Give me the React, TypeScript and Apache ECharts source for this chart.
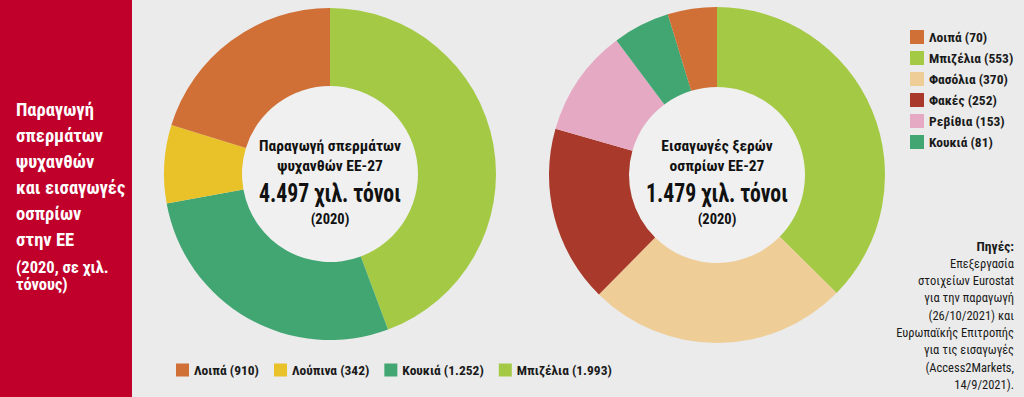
import React, { useEffect, useRef } from "react";
import * as echarts from "echarts";

// ---- Data ----
const prodCategories = ["Μπιζέλια", "Κουκιά", "Λούπινα", "Λοιπά"];
const prodValues = [1993, 1252, 342, 910];
const prodLegendOrder = ["Λοιπά", "Λούπινα", "Κουκιά", "Μπιζέλια"];

const impCategories = ["Μπιζέλια", "Φασόλια", "Φακές", "Ρεβίθια", "Κουκιά", "Λοιπά"];
const impValues = [553, 370, 252, 153, 81, 70];
const impLegendOrder = ["Λοιπά", "Μπιζέλια", "Φασόλια", "Φακές", "Ρεβίθια", "Κουκιά"];

const colorMap: Record<string, string> = {
  "Λοιπά": "#d06f36",
  "Μπιζέλια": "#a4ca45",
  "Λούπινα": "#e9c22a",
  "Κουκιά": "#42a673",
  "Φασόλια": "#efcd97",
  "Φακές": "#a93a2b",
  "Ρεβίθια": "#e5a9c3",
};

const titleLines = ["Παραγωγή", "σπερμάτων", "ψυχανθών", "και εισαγωγές", "οσπρίων", "στην ΕΕ"];
const subtitleLines = ["(2020, σε χιλ.", "τόνους)"];
const sourceLines = [
  "Πηγές:",
  "Επεξεργασία",
  "στοιχείων Eurostat",
  "για την παραγωγή",
  "(26/10/2021) και",
  "Ευρωπαϊκής Επιτροπής",
  "για τις εισαγωγές",
  "(Access2Markets,",
  "14/9/2021).",
];

const FONT = "'Roboto Condensed', 'Liberation Sans', sans-serif";

const fmt = (v: number) => String(v).replace(/\B(?=(\d{3})+(?!\d))/g, ".");

function measure(text: string, font: string): number {
  const c = document.createElement("canvas").getContext("2d");
  if (!c) return 0;
  c.font = font;
  return c.measureText(text).width;
}

export default function App() {
  const ref = useRef<HTMLDivElement>(null);
  useEffect(() => {
    if (!ref.current) return;
    const chart = echarts.init(ref.current, null, { renderer: "svg" });

    const prodName = (c: string) => `${c} (${fmt(prodValues[prodCategories.indexOf(c)])})`;
    const impName = (c: string) => `${c} (${fmt(impValues[impCategories.indexOf(c)])})`;
    const prodTotal = prodValues.reduce((a, b) => a + b, 0);
    const impTotal = impValues.reduce((a, b) => a + b, 0);

    const graphics: any[] = [
      { type: "rect", shape: { x: 0, y: 0, width: 132, height: 397 }, style: { fill: "#c0002b" }, z: 0 },
    ];
    titleLines.forEach((t, i) => {
      graphics.push({
        type: "text",
        x: 16,
        y: 110 + i * 26,
        style: { text: t, fill: "#fff", font: `bold 18.5px ${FONT}`, textVerticalAlign: "middle" },
      });
    });
    subtitleLines.forEach((t, i) => {
      graphics.push({
        type: "text",
        x: 16,
        y: 267 + i * 17,
        style: { text: t, fill: "#fff", font: `bold 16.5px ${FONT}`, textVerticalAlign: "middle" },
      });
    });
    sourceLines.forEach((t, i) => {
      graphics.push({
        type: "text",
        x: 1014,
        y: 246 + i * 17.3,
        style: {
          text: t,
          fill: "#1a1a1a",
          font: `${i === 0 ? "bold 13.5px" : "12.5px"} ${FONT}`,
          textAlign: "right",
          textVerticalAlign: "middle",
        },
      });
    });

    const bigFont = `bold 25px ${FONT}`;
    const centerText = (cx: number, cy: number, l1: string, l2: string, big: string) => {
      const w = measure(big, bigFont);
      const sx = w > 0 ? Math.min(1, 142 / w) : 0.7;
      graphics.push(
        { type: "circle", shape: { cx, cy, r: 88 }, style: { fill: "#f0f0f0" }, z: 1 },
        { type: "text", x: cx, y: 146, z: 10, style: { text: l1, fill: "#111", font: `bold 15.5px ${FONT}`, textAlign: "center", textVerticalAlign: "middle" } },
        { type: "text", x: cx, y: 166, z: 10, style: { text: l2, fill: "#111", font: `bold 15.5px ${FONT}`, textAlign: "center", textVerticalAlign: "middle" } },
        { type: "text", x: cx, y: 193, scaleX: sx, z: 10, style: { text: big, fill: "#111", font: bigFont, textAlign: "center", textVerticalAlign: "middle" } },
        { type: "text", x: cx, y: 219, z: 10, style: { text: "(2020)", fill: "#111", font: `bold 14.5px ${FONT}`, textAlign: "center", textVerticalAlign: "middle" } },
      );
    };
    centerText(330, 174, "Παραγωγή σπερμάτων", "ψυχανθών ΕΕ-27", `${fmt(prodTotal)} χιλ. τόνοι`);
    centerText(717, 175, "Εισαγωγές ξερών", "οσπρίων ΕΕ-27", `${fmt(impTotal)} χιλ. τόνοι`);

    const legendText = { fontFamily: FONT, fontWeight: "bold" as const, fontSize: 13.5, color: "#1a1a1a" };

    chart.setOption({
      animation: false,
      backgroundColor: "#ebebeb",
      graphic: graphics,
      legend: [
        {
          data: prodLegendOrder.map(prodName),
          orient: "horizontal",
          left: 171,
          top: 358,
          icon: "rect",
          itemWidth: 13,
          itemHeight: 13,
          itemGap: 15,
          textStyle: legendText,
          selectedMode: false,
        },
        {
          data: impLegendOrder.map(impName),
          orient: "vertical",
          left: 905,
          top: 25,
          icon: "rect",
          itemWidth: 14,
          itemHeight: 14,
          itemGap: 7,
          textStyle: legendText,
          selectedMode: false,
        },
      ],
      series: [
        {
          type: "pie",
          center: [330, 174],
          radius: [88, 166],
          startAngle: 90,
          clockwise: true,
          label: { show: false },
          labelLine: { show: false },
          emphasis: { disabled: true },
          silent: true,
          data: prodCategories.map((c, i) => ({
            name: prodName(c),
            value: prodValues[i],
            itemStyle: { color: colorMap[c] },
          })),
        },
        {
          type: "pie",
          center: [717, 175],
          radius: [88, 168],
          startAngle: 90,
          clockwise: true,
          label: { show: false },
          labelLine: { show: false },
          emphasis: { disabled: true },
          silent: true,
          data: impCategories.map((c, i) => ({
            name: impName(c),
            value: impValues[i],
            itemStyle: { color: colorMap[c] },
          })),
        },
      ],
    });
    return () => chart.dispose();
  }, []);
  return (
    <div
      ref={ref}
      style={{ position: "fixed", left: 0, top: 0, width: 1024, height: 397 }}
    />
  );
}
